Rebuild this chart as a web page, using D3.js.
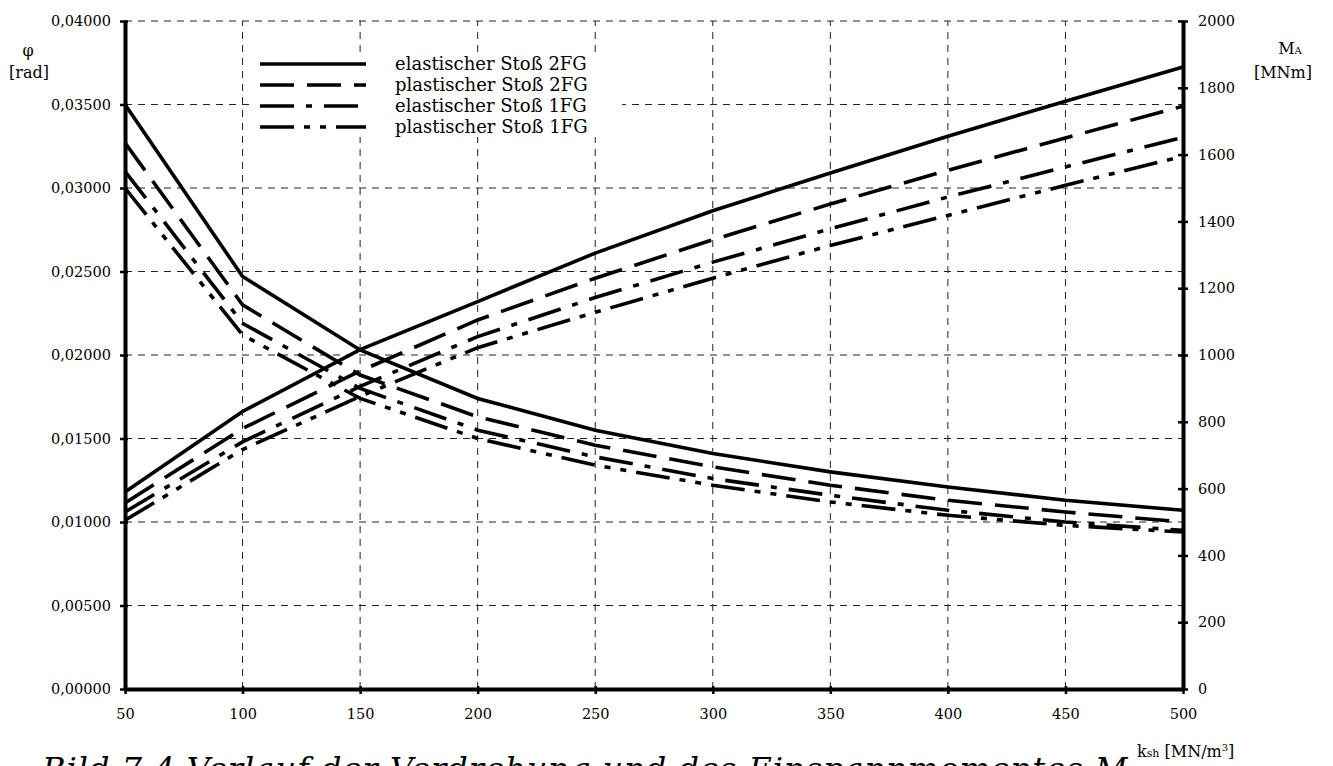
<!DOCTYPE html>
<html>
<head>
<meta charset="utf-8">
<script src="https://cdn.jsdelivr.net/npm/d3@7"></script>
<style>
  html, body { margin: 0; padding: 0; background: #fff; overflow: hidden; }
  svg { display: block; }
  text { font-family: "DejaVu Serif", serif; fill: #000; }
</style>
</head>
<body>
<script>
// Bettungsmodul k_sh [MN/m3]
const kValues = [50, 100, 150, 200, 250, 300, 350, 400, 450, 500];

// Verdrehung phi [rad]
const phiElast2FG = [0.0350, 0.0247, 0.0203, 0.0174, 0.0155, 0.0141, 0.0130, 0.0121, 0.0113, 0.0107];
const phiPlast2FG = [0.0327, 0.0230, 0.0188, 0.0163, 0.0146, 0.0133, 0.0122, 0.0113, 0.0106, 0.0100];
const phiElast1FG = [0.0310, 0.0219, 0.0180, 0.0155, 0.0139, 0.0126, 0.0116, 0.0107, 0.0100, 0.0095];
const phiPlast1FG = [0.0300, 0.0212, 0.0174, 0.0150, 0.0134, 0.0122, 0.0112, 0.0104, 0.0098, 0.0094];

// Einspannmoment M_A [MNm]
const momElast2FG = [590, 831, 1016, 1160, 1305, 1432, 1545, 1655, 1760, 1862];
const momPlast2FG = [557, 780, 952, 1105, 1230, 1345, 1452, 1553, 1650, 1745];
const momElast1FG = [530, 740, 906, 1055, 1172, 1278, 1378, 1473, 1563, 1652];
const momPlast1FG = [505, 717, 876, 1022, 1128, 1230, 1328, 1418, 1508, 1595];

const seriesNames = [
  "elastischer Stoß 2FG",
  "plastischer Stoß 2FG",
  "elastischer Stoß 1FG",
  "plastischer Stoß 1FG"
];

const xTicks = [50, 100, 150, 200, 250, 300, 350, 400, 450, 500];
const phiTicks = [0, 0.005, 0.01, 0.015, 0.02, 0.025, 0.03, 0.035, 0.04];
const momTicks = [0, 200, 400, 600, 800, 1000, 1200, 1400, 1600, 1800, 2000];

const width = 1333;
const height = 766;
const dashes = ["none", "34,13", "34,12,6,12", "34,10,6,10,6,10"];

const de = d3.formatLocale({ decimal: ",", thousands: "", grouping: [3], currency: ["", " €"] });
const fmtPhi = de.format(".5f");
const fmtMom = d3.format("d");

let svg = d3.select("body")
  .append("svg")
  .attr("width", width)
  .attr("height", height);

let x = d3.scaleLinear().domain([50, 500]).range([125, 1183]);
let yPhi = d3.scaleLinear().domain([0, 0.04]).range([689, 21]);
let yMom = d3.scaleLinear().domain([0, 2000]).range([689, 21]);

// Gitter (gestrichelt)
let grid = svg.append("g").attr("class", "grid")
  .attr("stroke", "#222")
  .attr("stroke-width", 1)
  .attr("stroke-dasharray", "7,6");

grid.selectAll(".gx")
  .data(xTicks.slice(1))
  .enter()
  .append("line")
  .attr("x1", d => x(d)).attr("x2", d => x(d))
  .attr("y1", yPhi(0)).attr("y2", yPhi(0.04));

grid.selectAll(".gy")
  .data(phiTicks.slice(1))
  .enter()
  .append("line")
  .attr("x1", x(50)).attr("x2", x(500))
  .attr("y1", d => yPhi(d)).attr("y2", d => yPhi(d));

// Kurven
const phiSeries = [phiElast2FG, phiPlast2FG, phiElast1FG, phiPlast1FG];
const momSeries = [momElast2FG, momPlast2FG, momElast1FG, momPlast1FG];

let linePhi = d3.line().x((d, i) => x(kValues[i])).y(d => yPhi(d));
let lineMom = d3.line().x((d, i) => x(kValues[i])).y(d => yMom(d));

let curves = svg.append("g").attr("class", "curves")
  .attr("fill", "none")
  .attr("stroke", "#000")
  .attr("stroke-width", 3.6);

curves.selectAll(".phi")
  .data(phiSeries)
  .enter()
  .append("path")
  .attr("d", linePhi)
  .attr("stroke-dasharray", (d, i) => dashes[i]);

curves.selectAll(".mom")
  .data(momSeries)
  .enter()
  .append("path")
  .attr("d", lineMom)
  .attr("stroke-dasharray", (d, i) => dashes[i]);

// Achsen
function styleAxis(g, inner) {
  g.select(".domain").attr("stroke", "#000").attr("stroke-width", 4);
  g.selectAll(".tick line").attr("stroke", "#000").attr("stroke-width", 2.5);
  inner(g.selectAll(".tick line"));
  g.selectAll(".tick text")
    .attr("font-family", "DejaVu Serif")
    .attr("font-size", 14.5)
    .attr("fill", "#000");
}

let axisLeft = svg.append("g")
  .attr("transform", "translate(" + x(50) + ",0)")
  .call(d3.axisLeft(yPhi).tickValues(phiTicks).tickFormat(fmtPhi).tickSizeInner(5).tickSizeOuter(0).tickPadding(9));
styleAxis(axisLeft, t => t.attr("x1", 3));

let axisRight = svg.append("g")
  .attr("transform", "translate(" + x(500) + ",0)")
  .call(d3.axisRight(yMom).tickValues(momTicks).tickFormat(fmtMom).tickSizeInner(5).tickSizeOuter(0).tickPadding(10));
styleAxis(axisRight, t => t.attr("x1", -5));

let axisBottom = svg.append("g")
  .attr("transform", "translate(0," + yPhi(0) + ")")
  .call(d3.axisBottom(x).tickValues(xTicks).tickSizeInner(5).tickSizeOuter(0).tickPadding(15));
styleAxis(axisBottom, t => t.attr("y1", -3));

// Achsenbeschriftungen
svg.append("text").attr("x", 28).attr("y", 56).attr("text-anchor", "middle")
  .attr("font-size", 16).text("φ");
svg.append("text").attr("x", 29).attr("y", 78).attr("text-anchor", "middle")
  .attr("font-size", 16).text("[rad]");

let ma = svg.append("text").attr("x", 1290).attr("y", 54).attr("text-anchor", "middle")
  .attr("font-size", 16);
ma.append("tspan").text("M");
ma.append("tspan").attr("font-size", 10).text("A");
svg.append("text").attr("x", 1283).attr("y", 78).attr("text-anchor", "middle")
  .attr("font-size", 16).text("[MNm]");

let ksh = svg.append("text").attr("x", 1137).attr("y", 757).attr("font-size", 16);
ksh.append("tspan").text("k");
ksh.append("tspan").attr("font-size", 11).text("sh");
ksh.append("tspan").text(" [MN/m");
ksh.append("tspan").attr("font-size", 10).attr("dy", -6).text("3");
ksh.append("tspan").attr("dy", 6).text("]");

// Legende
let legend = svg.append("g").attr("class", "legend");
let rows = legend.selectAll(".row")
  .data(seriesNames)
  .enter()
  .append("g")
  .attr("transform", (d, i) => "translate(0," + (64 + i * 21) + ")");

rows.append("rect")
  .attr("x", 252).attr("y", -11).attr("width", 370).attr("height", 21)
  .attr("fill", "#fff");

rows.append("line")
  .attr("x1", 260).attr("x2", 366)
  .attr("stroke", "#000").attr("stroke-width", 3.6)
  .attr("stroke-dasharray", (d, i) => dashes[i] === "none" ? null : dashes[i]);

rows.append("text")
  .attr("x", 395).attr("y", 6)
  .attr("font-size", 18)
  .text(d => d);

// Bildunterschrift (im Original unten abgeschnitten)
svg.append("text")
  .attr("x", 42).attr("y", 780)
  .attr("font-size", 32)
  .attr("font-style", "italic")
  .attr("letter-spacing", 1)
  .text("Bild 7.4 Verlauf der Verdrehung und des Einspannmomentes M");
</script>
</body>
</html>
